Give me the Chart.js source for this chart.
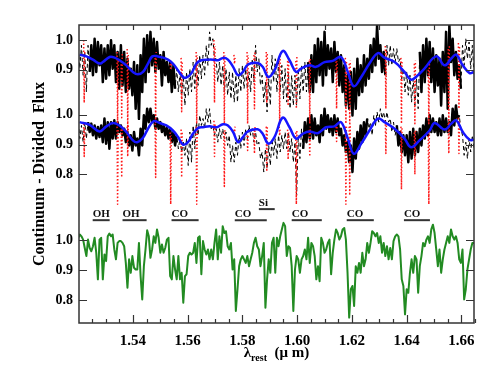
<!DOCTYPE html>
<html>
<head>
<meta charset="utf-8">
<script src="https://cdn.jsdelivr.net/npm/chart.js@4.4.0/dist/chart.umd.min.js"></script>
<style>
  html, body { margin: 0; padding: 0; background: #fff; }
  canvas { display: block; }
</style>
</head>
<body>
<canvas id="chart" width="498" height="374"></canvas>
<script>
// spectra are resampled on a uniform grid (like CRVAL1 / CDELT1 of a fits header)
const waveStart = 1.5200;
const waveStep = 0.0006;

// vertical shifts of the two upper panels
const TOP_SHIFT = 0.67;
const MID_SHIFT = 0.42;

// observed spectrum, upper panel (continuum divided)
const obsTop = [
  0.971,0.904, 0.982,0.882, 0.960,0.826, 0.982,0.893, 0.982,0.882,
  1.004,0.893, 0.993,0.915, 0.982,0.859, 0.971,0.870, 0.982,0.882,
  0.999,0.904, 0.982,0.859, 0.960,0.837, 0.982,0.848, 0.960,0.826,
  0.937,0.837, 0.904,0.815, 0.926,0.770, 0.915,0.736, 0.949,0.826,
  1.004,0.859, 1.016,0.893, 1.027,0.915, 1.004,0.893, 0.993,0.904,
  0.949,0.848, 0.960,0.882, 0.926,0.859, 0.926,0.826, 0.915,0.837,
  0.904,0.826, 0.893,0.803, 0.882,0.781, 0.893,0.815, 0.904,0.826,
  0.926,0.837, 0.937,0.848, 0.949,0.870, 0.949,0.882, 0.982,0.915,
  1.027,0.982, 1.004,0.937, 0.937,0.859, 0.926,0.848, 0.915,0.826,
  0.904,0.815, 0.893,0.803, 0.893,0.792, 0.882,0.792, 0.904,0.826,
  0.915,0.837, 0.904,0.837, 0.893,0.826, 0.937,0.859, 0.982,0.893,
  0.937,0.848, 0.882,0.792, 0.859,0.759, 0.870,0.781, 0.949,0.859,
  0.937,0.826, 0.926,0.826, 0.915,0.803, 0.904,0.792, 0.893,0.770,
  0.882,0.781, 0.882,0.781, 0.904,0.803, 0.915,0.826, 0.926,0.826,
  0.926,0.826, 0.949,0.826, 0.982,0.859, 1.004,0.882, 0.993,0.848,
  1.027,0.882, 0.982,0.904, 0.971,0.859, 0.993,0.893, 0.960,0.848,
  0.949,0.826, 0.915,0.781, 0.882,0.770, 0.893,0.747, 0.904,0.770,
  0.937,0.815, 0.915,0.826, 0.949,0.848, 0.937,0.870, 0.982,0.893,
  1.004,0.915, 1.049,0.937, 0.982,0.893, 0.960,0.882, 0.982,0.915,
  0.982,0.915, 0.971,0.926, 0.971,0.926, 0.937,0.870, 0.904,0.826,
  0.893,0.815, 0.882,0.792, 0.870,0.781, 0.870,0.770, 0.960,0.826,
  0.982,0.859, 1.004,0.882, 0.993,0.859, 0.971,0.826, 0.949,0.848,
  0.937,0.781, 0.960,0.826, 1.027,0.770, 1.049,0.926, 1.004,0.882,
  0.960,0.870, 0.915,0.837, 0.982,0.915, 1.004,0.937, 0.993,0.904,
  0.982,0.882
];

// observed spectrum, middle panel
const obsMid = [
  0.975,0.920, 0.964,0.908, 0.975,0.920, 0.975,0.942, 0.970,0.931,
  0.964,0.920, 0.959,0.925, 0.964,0.908, 0.987,0.903, 0.975,0.886,
  0.975,0.920, 0.981,0.920, 0.975,0.942, 0.964,0.931, 0.953,0.908,
  0.942,0.897, 0.931,0.880, 0.942,0.897, 0.920,0.864, 0.953,0.897,
  0.998,0.953, 1.020,0.975, 1.020,0.975, 0.998,0.953, 0.987,0.953,
  0.975,0.942, 0.964,0.931, 0.959,0.920, 0.953,0.908, 0.942,0.897,
  0.931,0.886, 0.920,0.875, 0.908,0.864, 0.920,0.830, 0.942,0.841,
  0.964,0.886, 0.975,0.931, 0.998,0.964, 0.987,0.953, 1.020,0.975,
  1.020,0.953, 0.964,0.931, 0.953,0.908, 0.953,0.920, 0.953,0.920,
  0.942,0.897, 0.931,0.841, 0.897,0.841, 0.908,0.864, 0.931,0.886,
  0.942,0.897, 0.953,0.920, 0.964,0.931, 0.953,0.908, 0.942,0.897,
  0.908,0.853, 0.875,0.808, 0.886,0.819, 0.897,0.830, 0.920,0.864,
  0.920,0.853, 0.931,0.875, 0.931,0.886, 0.942,0.886, 0.942,0.875,
  0.920,0.841, 0.908,0.730, 0.931,0.853, 0.953,0.886, 0.975,0.908,
  0.987,0.920, 0.998,0.920, 0.987,0.931, 0.964,0.908, 0.998,0.931,
  1.020,0.953, 0.998,0.942, 0.987,0.931, 0.998,0.942, 0.987,0.931,
  0.953,0.897, 0.931,0.875, 0.908,0.841, 0.897,0.808, 0.920,0.853,
  0.942,0.886, 0.964,0.908, 0.975,0.931, 0.987,0.953, 0.975,0.931,
  0.998,0.964, 1.009,0.975, 1.020,0.987, 1.009,0.975, 1.009,0.975,
  0.987,0.942, 0.975,0.931, 0.964,0.897, 0.942,0.875, 0.931,0.864,
  0.931,0.841, 0.942,0.853, 0.953,0.864, 0.942,0.875, 0.953,0.897,
  0.964,0.920, 0.987,0.931, 0.998,0.942, 0.987,0.942, 0.975,0.931,
  0.987,0.931, 0.998,0.942, 0.987,0.942, 0.975,0.931, 1.020,0.964,
  1.031,0.987, 0.998,0.953, 0.931,0.864, 0.908,0.853, 0.920,0.875,
  0.931,0.886
];

// wavelength ranges where the observed spectrum is plotted solid
const solidTop = [[1.5242, 1.5554], [1.6040, 1.6322], [1.6448, 1.6598]];
const solidMid = [[1.5236, 1.5560], [1.6022, 1.6256], [1.6364, 1.6592]];

// template spectrum (bottom panel)
const templ = [
  1.008,1.019,1.013,1.002,0.974,0.947,1.002,0.974,0.963,0.980,
  1.008,0.958,0.869,1.002,1.008,0.869,0.952,0.930,1.013,1.022,
  1.013,1.019,0.969,0.936,0.991,0.997,0.997,0.991,0.980,0.924,
  0.841,0.936,0.891,0.947,0.908,0.902,0.902,0.991,0.880,0.802,
  0.913,0.969,1.033,1.013,0.941,0.969,1.013,0.991,1.036,1.008,
  0.958,0.986,0.958,0.974,1.002,1.008,0.880,0.869,0.947,0.902,
  0.869,0.947,0.869,0.891,0.791,0.880,0.886,0.947,0.958,0.952,
  0.958,0.991,0.924,1.008,1.013,0.886,0.997,0.969,0.952,0.969,
  0.936,0.969,0.936,0.991,1.036,0.936,1.013,0.958,1.047,1.024,
  1.030,0.980,0.969,0.991,0.902,0.936,0.763,0.836,0.913,0.936,
  0.947,0.936,0.924,0.947,0.913,0.936,0.958,0.991,1.008,0.980,
  0.969,0.913,0.947,0.991,0.774,0.869,0.936,0.891,0.991,1.008,
  0.891,1.008,0.980,1.013,1.036,1.058,1.047,0.947,0.980,0.974,
  0.913,0.763,0.902,0.947,0.936,0.891,0.936,0.947,0.969,0.936,
  1.008,0.924,0.991,0.980,0.947,0.869,0.913,0.863,1.008,0.991,
  0.958,0.969,0.991,1.002,0.886,0.958,1.002,1.036,1.024,1.002,
  1.013,1.036,1.041,1.002,0.891,0.741,0.836,0.847,0.780,0.913,
  0.891,0.924,0.891,0.958,0.913,0.936,0.991,0.958,0.991,1.030,
  1.024,1.013,1.024,0.991,1.013,0.958,0.991,0.947,0.980,0.936,
  0.974,0.936,0.997,1.013,1.019,1.013,0.969,0.869,0.847,0.752,
  0.836,0.824,0.891,0.936,0.891,0.947,0.936,0.824,0.913,0.947,
  0.991,0.980,1.002,1.013,0.991,1.036,1.052,1.024,0.969,0.913,
  0.969,0.891,0.936,0.969,0.991,1.013,0.991,1.036,1.013,1.002,
  1.013,0.991,0.936,0.924,0.969,0.802,0.836,0.902,0.936,0.969,
  0.991,0.991
];

// telluric model (red dotted): one triplet (wing, core, wing) per line
const redWave = [
  1.5220,1.5222,1.5224, 1.5342,1.5344,1.5346, 1.5357,1.5359,1.5361, 1.5379,1.5381,1.5383,
  1.5481,1.5483,1.5485, 1.5536,1.5538,1.5540, 1.5576,1.5578,1.5580, 1.5631,1.5633,1.5635,
  1.5696,1.5698,1.5700, 1.5732,1.5734,1.5736, 1.5769,1.5771,1.5773, 1.5817,1.5819,1.5821,
  1.5842,1.5844,1.5846, 1.5887,1.5889,1.5891, 1.5934,1.5936,1.5938, 1.5965,1.5967,1.5969,
  1.5995,1.5997,1.5999, 1.6044,1.6046,1.6048, 1.6142,1.6144,1.6146, 1.6176,1.6178,1.6180,
  1.6190,1.6192,1.6194, 1.6322,1.6324,1.6326, 1.6379,1.6381,1.6383, 1.6428,1.6430,1.6432,
  1.6479,1.6481,1.6483, 1.6552,1.6554,1.6556, 1.6589,1.6591,1.6593
];
const redTop = [
  1.00,0.79,0.96, 0.96,0.72,0.93, 0.93,0.74,0.96, 0.97,0.70,0.95,
  0.94,0.72,0.96, 0.92,0.90,0.92, 0.94,0.76,0.93, 0.96,0.72,0.95,
  1.00,0.79,0.98, 0.96,0.72,0.95, 0.95,0.92,0.94, 0.96,0.72,0.95,
  0.95,0.77,0.96, 0.96,0.79,0.96, 0.93,0.72,0.95, 0.93,0.78,0.94,
  0.93,0.77,0.95, 0.93,0.72,0.94, 0.94,0.77,0.93, 0.94,0.72,0.93,
  0.92,0.72,0.93, 0.98,0.77,0.97, 0.94,0.72,0.93, 0.92,0.72,0.93,
  0.90,0.72,0.92, 0.97,0.72,0.98, 0.99,0.77,0.98
];
const redMid = [
  0.97,0.86,0.96, 0.96,0.70,0.95, 0.95,0.79,0.96, 0.96,0.86,0.97,
  0.97,0.79,0.96, 0.94,0.70,0.93, 0.95,0.79,0.94, 0.96,0.70,0.95,
  0.98,0.86,0.97, 0.94,0.76,0.95, 0.95,0.93,0.96, 0.93,0.88,0.93,
  0.95,0.87,0.96, 0.96,0.81,0.96, 0.96,0.93,0.95, 0.95,0.85,0.94,
  0.94,0.70,0.95, 0.95,0.86,0.96, 0.96,0.91,0.97, 0.96,0.70,0.96,
  0.96,0.73,0.97, 0.98,0.87,0.97, 0.96,0.75,0.96, 0.94,0.80,0.95,
  0.94,0.70,0.95, 0.97,0.87,0.98, 0.99,0.87,0.98
];

// smoothed fits (blue)
const blueTopWave = [1.5205,1.5230,1.5254,1.5278,1.5290,1.5315,1.5333,1.5351,1.5376,1.5400,
  1.5418,1.5437,1.5455,1.5471,1.5491,1.5510,1.5528,1.5546,1.5565,1.5583,
  1.5595,1.5614,1.5632,1.5650,1.5674,1.5693,1.5711,1.5729,1.5747,1.5766,
  1.5784,1.5802,1.5820,1.5856,1.5874,1.5895,1.5917,1.5947,1.5972,1.5996,
  1.6014,1.6045,1.6069,1.6100,1.6130,1.6160,1.6185,1.6207,1.6234,1.6264,
  1.6295,1.6319,1.6356,1.6392,1.6416,1.6441,1.6465,1.6508,1.6539,1.6563,
  1.6581,1.6605,1.6630,1.6646];
const blueTop = [0.951,0.945,0.934,0.921,0.926,0.943,0.941,0.932,0.915,0.893,
  0.885,0.893,0.921,0.945,0.945,0.941,0.934,0.921,0.898,0.876,
  0.874,0.889,0.921,0.932,0.934,0.934,0.932,0.940,0.934,0.910,
  0.882,0.893,0.918,0.923,0.910,0.876,0.898,0.963,0.932,0.893,
  0.904,0.915,0.910,0.926,0.930,0.943,0.893,0.845,0.876,0.921,
  0.956,0.941,0.926,0.893,0.867,0.882,0.904,0.945,0.915,0.938,
  0.951,0.915,0.889,0.893];
const blueMidWave = [1.5205,1.5242,1.5278,1.5303,1.5327,1.5351,1.5376,1.5400,1.5415,1.5437,
  1.5455,1.5476,1.5498,1.5522,1.5546,1.5565,1.5583,1.5601,1.5619,1.5638,
  1.5656,1.5680,1.5705,1.5729,1.5747,1.5766,1.5784,1.5802,1.5820,1.5856,
  1.5874,1.5895,1.5917,1.5947,1.5972,1.5996,1.6020,1.6045,1.6075,1.6106,
  1.6136,1.6160,1.6185,1.6207,1.6234,1.6264,1.6295,1.6319,1.6356,1.6392,
  1.6416,1.6447,1.6484,1.6502,1.6539,1.6563,1.6581,1.6605,1.6630,1.6646];
const blueMid = [0.975,0.966,0.944,0.961,0.972,0.964,0.942,0.914,0.908,0.923,
  0.953,0.978,0.972,0.964,0.947,0.925,0.900,0.908,0.936,0.955,
  0.958,0.961,0.958,0.968,0.964,0.942,0.908,0.925,0.944,0.951,
  0.936,0.903,0.925,0.990,0.958,0.920,0.936,0.944,0.938,0.958,
  0.961,0.975,0.920,0.869,0.903,0.947,0.987,0.975,0.953,0.920,
  0.891,0.914,0.947,0.972,0.950,0.970,0.981,0.942,0.916,0.916];

// axes
const xTickVals = [1.54, 1.56, 1.58, 1.60, 1.62, 1.64, 1.66];
const yTickVals = [0.8, 0.9, 1.0, 1.22, 1.32, 1.42, 1.57, 1.67];
const yTickLabels = ['0.8', '0.9', '1.0', '0.8', '0.9', '1.0', '0.9', '1.0'];

// absorption feature marks
const featLabels = ['OH', 'OH', 'CO', 'CO', 'Si', 'CO', 'CO', 'CO'];
const featStart = [1.5253, 1.5362, 1.5541, 1.5772, 1.5860, 1.5980, 1.6181, 1.6390];
const featEnd = [1.5315, 1.5450, 1.5640, 1.5889, 1.5918, 1.6090, 1.6280, 1.6485];
const featLevel = [1.067, 1.067, 1.067, 1.067, 1.104, 1.067, 1.067, 1.067];

const SERIF = "'Liberation Serif', 'Times New Roman', serif";

function gridSpectrum(flux, shift) {
  return flux.map((f, i) => ({ x: waveStart + i * waveStep, y: f + shift }));
}
function pairs(wave, flux, shift) {
  return wave.map((w, i) => ({ x: w, y: flux[i] + shift }));
}
function keepRanges(points, ranges) {
  return points.map(p => {
    const inside = ranges.some(r => p.x >= r[0] - 1e-9 && p.x <= r[1] + 1e-9);
    return { x: p.x, y: inside ? p.y : null };
  });
}
// each telluric line is drawn on its own, with a break after every triplet
function lineTriplets(wave, flux, shift) {
  const out = [];
  wave.forEach((w, i) => {
    out.push({ x: w, y: flux[i] + shift });
    if (i % 3 === 2) out.push({ x: w + 0.00001, y: null });
  });
  return out;
}

const topPts = gridSpectrum(obsTop, TOP_SHIFT);
const midPts = gridSpectrum(obsMid, MID_SHIFT);

const line = (extra) => Object.assign({
  pointRadius: 0, fill: false, borderJoinStyle: 'round', tension: 0
}, extra);

const framePlugin = {
  id: 'frame',
  afterDraw(chart) {
    const { ctx, chartArea: a, scales: { x, y } } = chart;
    ctx.save();

    // ticks
    ctx.strokeStyle = '#333';
    ctx.lineWidth = 1.2;
    ctx.beginPath();
    for (let k = 0; k <= 28; k++) {
      const v = 1.525 + k * 0.005;
      const px = Math.round(x.getPixelForValue(v)) + 0.5;
      const major = xTickVals.some(t => Math.abs(t - v) < 1e-6);
      ctx.moveTo(px, a.bottom);
      ctx.lineTo(px, a.bottom - (major ? 8 : 4));
    }
    for (let k = 0; k <= 13; k++) {
      const v = 1.53 + k * 0.01;
      const px = Math.round(x.getPixelForValue(v)) + 0.5;
      ctx.moveTo(px, a.top);
      ctx.lineTo(px, a.top + 5);
    }
    yTickVals.forEach(v => {
      const py = Math.round(y.getPixelForValue(v)) + 0.5;
      ctx.moveTo(a.left, py); ctx.lineTo(a.left + 8, py);
      ctx.moveTo(a.right, py); ctx.lineTo(a.right - 8, py);
    });
    ctx.stroke();

    ctx.lineWidth = 1.5;
    ctx.strokeRect(a.left, a.top, a.right - a.left, a.bottom - a.top);

    // feature marks
    ctx.fillStyle = '#111';
    ctx.font = 'bold 11px ' + SERIF;
    ctx.textAlign = 'left';
    ctx.textBaseline = 'alphabetic';
    ctx.lineWidth = 2;
    featLabels.forEach((lab, i) => {
      const x0 = x.getPixelForValue(featStart[i]);
      const x1 = x.getPixelForValue(featEnd[i]);
      const yb = y.getPixelForValue(featLevel[i]);
      ctx.beginPath();
      ctx.moveTo(x0, yb); ctx.lineTo(x1, yb);
      ctx.stroke();
      ctx.fillText(lab, x0, yb - 3);
    });

    // axis titles
    ctx.fillStyle = '#000';
    ctx.font = 'bold 16px ' + SERIF;
    ctx.save();
    ctx.translate(40, (a.top + a.bottom) / 2);
    ctx.rotate(-Math.PI / 2);
    ctx.textAlign = 'center';
    ctx.textBaseline = 'middle';
    ctx.fillText('Continuum - Divided  Flux', 0, 0);
    ctx.restore();

    const big = 'bold 15px ' + SERIF, small = 'bold 10px ' + SERIF;
    ctx.font = big; const w1 = ctx.measureText('\u03bb').width;
    ctx.font = small; const w2 = ctx.measureText('rest').width;
    ctx.font = big; const w3 = ctx.measureText('  (\u03bc m)').width;
    let cx = (a.left + a.right) / 2 - (w1 + w2 + w3) / 2;
    const base = 357;
    ctx.textAlign = 'left';
    ctx.font = big; ctx.fillText('\u03bb', cx, base); cx += w1;
    ctx.font = small; ctx.fillText('rest', cx, base + 4); cx += w2;
    ctx.font = big; ctx.fillText('  (\u03bc m)', cx, base);
    ctx.restore();
  }
};

new Chart(document.getElementById('chart'), {
  type: 'line',
  data: {
    datasets: [
      line({ data: pairs(blueTopWave, blueTop, TOP_SHIFT), borderColor: '#1515ff', borderWidth: 2.5, tension: 0.4, order: 0 }),
      line({ data: pairs(blueMidWave, blueMid, MID_SHIFT), borderColor: '#1515ff', borderWidth: 2.5, tension: 0.4, order: 0 }),
      line({ data: gridSpectrum(templ, 0), borderColor: '#228b22', borderWidth: 2, order: 0 }),
      line({ data: lineTriplets(redWave, redTop, TOP_SHIFT), borderColor: '#ff1a1a', borderWidth: 1.5, borderDash: [1.5, 2], spanGaps: false, order: 1 }),
      line({ data: lineTriplets(redWave, redMid, MID_SHIFT), borderColor: '#ff1a1a', borderWidth: 1.5, borderDash: [1.5, 2], spanGaps: false, order: 1 }),
      line({ data: keepRanges(topPts, solidTop), borderColor: '#000', borderWidth: 2.5, spanGaps: false, order: 2 }),
      line({ data: keepRanges(midPts, solidMid), borderColor: '#000', borderWidth: 2.5, spanGaps: false, order: 2 }),
      line({ data: topPts, borderColor: '#000', borderWidth: 1, borderDash: [4, 3], order: 3 }),
      line({ data: midPts, borderColor: '#000', borderWidth: 1, borderDash: [4, 3], order: 3 })
    ]
  },
  options: {
    responsive: false,
    animation: false,
    events: [],
    layout: { padding: { top: 25, right: 24, bottom: 0, left: 0 } },
    plugins: { legend: { display: false }, tooltip: { enabled: false } },
    scales: {
      x: {
        type: 'linear',
        min: 1.5203,
        max: 1.6646,
        afterBuildTicks: s => { s.ticks = xTickVals.map(v => ({ value: v })); },
        afterFit: s => { s.height = 51; },
        grid: { display: false, drawTicks: false },
        border: { display: false },
        ticks: {
          padding: 9, color: '#000', maxRotation: 0, autoSkip: false,
          font: { family: SERIF, size: 15, weight: 'bold' },
          callback: v => v.toFixed(2)
        }
      },
      y: {
        type: 'linear',
        min: 0.723,
        max: 1.720,
        afterBuildTicks: s => { s.ticks = yTickVals.map(v => ({ value: v })); },
        afterFit: s => { s.width = 79; },
        grid: { display: false, drawTicks: false },
        border: { display: false },
        ticks: {
          padding: 6, color: '#000', autoSkip: false,
          font: { family: SERIF, size: 14, weight: 'bold' },
          callback: (v, i) => yTickLabels[i]
        }
      }
    }
  },
  plugins: [framePlugin]
});
</script>
</body>
</html>
